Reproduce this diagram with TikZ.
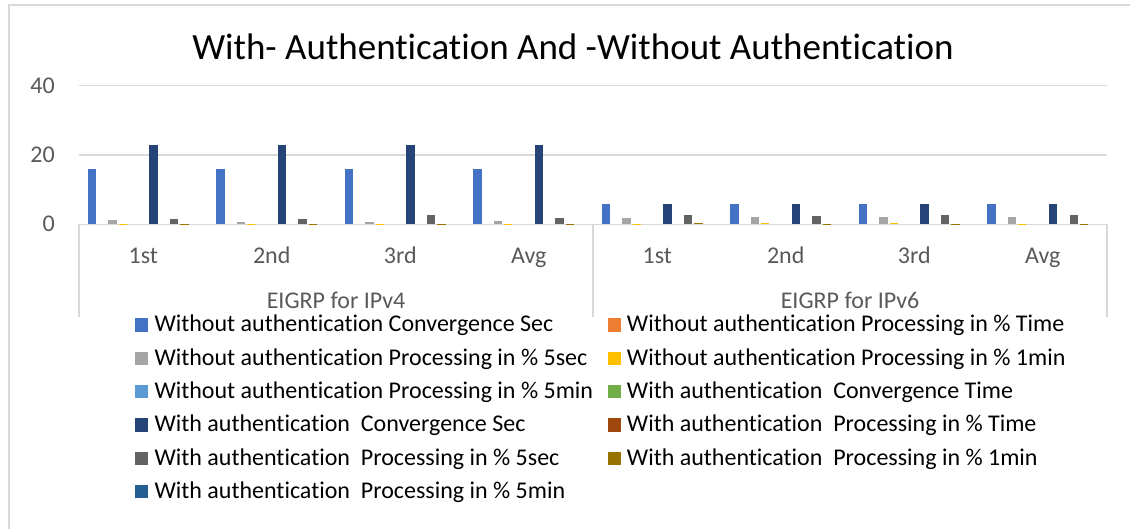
\documentclass[tikz,border=0pt]{standalone}
\usepackage{fontspec}
\setmainfont[Ligatures=NoCommon]{Carlito}
\usepackage{tikz}
\usepackage{xcolor}
\definecolor{woConv}{HTML}{4472C4}
\definecolor{woTime}{HTML}{ED7D31}
\definecolor{woFiveS}{HTML}{A5A5A5}
\definecolor{woOneM}{HTML}{FFC000}
\definecolor{woFiveM}{HTML}{5B9BD5}
\definecolor{wConvT}{HTML}{70AD47}
\definecolor{wConv}{HTML}{264478}
\definecolor{wTime}{HTML}{9E480E}
\definecolor{wFiveS}{HTML}{636363}
\definecolor{wOneM}{HTML}{997300}
\definecolor{wFiveM}{HTML}{255E91}
\definecolor{lineGray}{HTML}{D9D9D9}
\definecolor{textGray}{HTML}{595959}
\tikzstyle{gridln} = [draw=lineGray, line width=1.4pt]
\tikzstyle{titlelbl} = [anchor=base, inner sep=0pt, font=\fontsize{37}{44}\selectfont]
\tikzstyle{ticklbl} = [anchor=base east, inner sep=0pt, text=textGray, font=\fontsize{24}{28}\selectfont]
\tikzstyle{catlbl} = [anchor=base, inner sep=0pt, text=textGray, font=\fontsize{24}{28}\selectfont]
\tikzstyle{keybox} = [anchor=south west, inner sep=0pt, minimum size=13.5pt]
\tikzstyle{keytext} = [anchor=base west, inner sep=0pt, font=\fontsize{24}{28}\selectfont]

\begin{document}
\begin{tikzpicture}[x=1pt, y=-1pt]
    \useasboundingbox (0,0) rectangle (1130,529);
    % Chart frame (cut at right and bottom)
    \draw[lineGray, line width=2pt] (8.5,529) -- (8.5,5.5) -- (1130,5.5);

    % Title
    \node[titlelbl] (title) at (573,59.3) {With- Authentication And -Without Authentication};

    % Gridlines and value axis
    \foreach \v/\yy in {0/224.3, 20/155, 40/85.7} {
        \draw[gridln] (79,\yy) -- (1107,\yy);
        \node[ticklbl] (tick\v) at (55,\yy+7.5) {\v};
    }

    % Bars: category / conv sec / 5sec / 1min (without), conv sec / 5sec / 1min (with)
    \foreach \c/\va/\vc/\vd/\vg/\vi/\vj in {0/16/1.3/0.04/22.8/1.5/0.04, 1/16/0.7/0.02/22.8/1.5/0.08,
        2/16/0.7/0.02/22.8/2.7/0.04, 3/16/0.9/0.02/22.8/1.9/0.08, 4/6/1.9/0.1/6/2.7/0.3,
        5/6/2.1/0.3/6/2.5/0.15, 6/6/2.2/0.3/6/2.8/0.1, 7/6/2.2/0.15/6/2.7/0.15} {
        \foreach \s/\h/\col in {0/\va/woConv, 2/\vc/woFiveS, 3/\vd/woOneM, 6/\vg/wConv, 8/\vi/wFiveS, 9/\vj/wOneM} {
            \fill[\col] (87.75+128.5*\c+10.28*\s,224.3) rectangle ++(8.3,-3.465*\h);
        }
    }

    % Category axis
    \foreach \xx in {79, 593, 1107} {
        \draw[gridln] (\xx,224.3) -- (\xx,317);
    }
    \foreach \c/\lbl in {0/1st, 1/2nd, 2/3rd, 3/Avg, 4/1st, 5/2nd, 6/3rd, 7/Avg} {
        \node[catlbl] (cat\c) at (143.25+128.5*\c,264) {\lbl};
    }
    \node[catlbl] (grpfour) at (336,309) {EIGRP for IPv4};
    \node[catlbl] (grpsix) at (850,309) {EIGRP for IPv6};

    % Legend
    \foreach \r/\col/\txt in {0/woConv/Without authentication Convergence Sec,
        1/woFiveS/Without authentication Processing in \% 5sec,
        2/woFiveM/Without authentication Processing in \% 5min,
        3/wConv/With authentication~ Convergence Sec,
        4/wFiveS/With authentication~ Processing in \% 5sec,
        5/wFiveM/With authentication~ Processing in \% 5min} {
        \node[keybox, fill=\col] (keyl\r) at (134.5,332+33.33*\r) {};
        \node[keytext] (txtl\r) at (154.3,331.7+33.33*\r) {\txt};
    }
    \foreach \r/\col/\txt in {0/woTime/Without authentication Processing in \% Time,
        1/woOneM/Without authentication Processing in \% 1min,
        2/wConvT/With authentication~ Convergence Time,
        3/wTime/With authentication~ Processing in \% Time,
        4/wOneM/With authentication~ Processing in \% 1min} {
        \node[keybox, fill=\col] (keyr\r) at (607.5,332+33.33*\r) {};
        \node[keytext] (txtr\r) at (626.7,331.7+33.33*\r) {\txt};
    }
\end{tikzpicture}
\end{document}
